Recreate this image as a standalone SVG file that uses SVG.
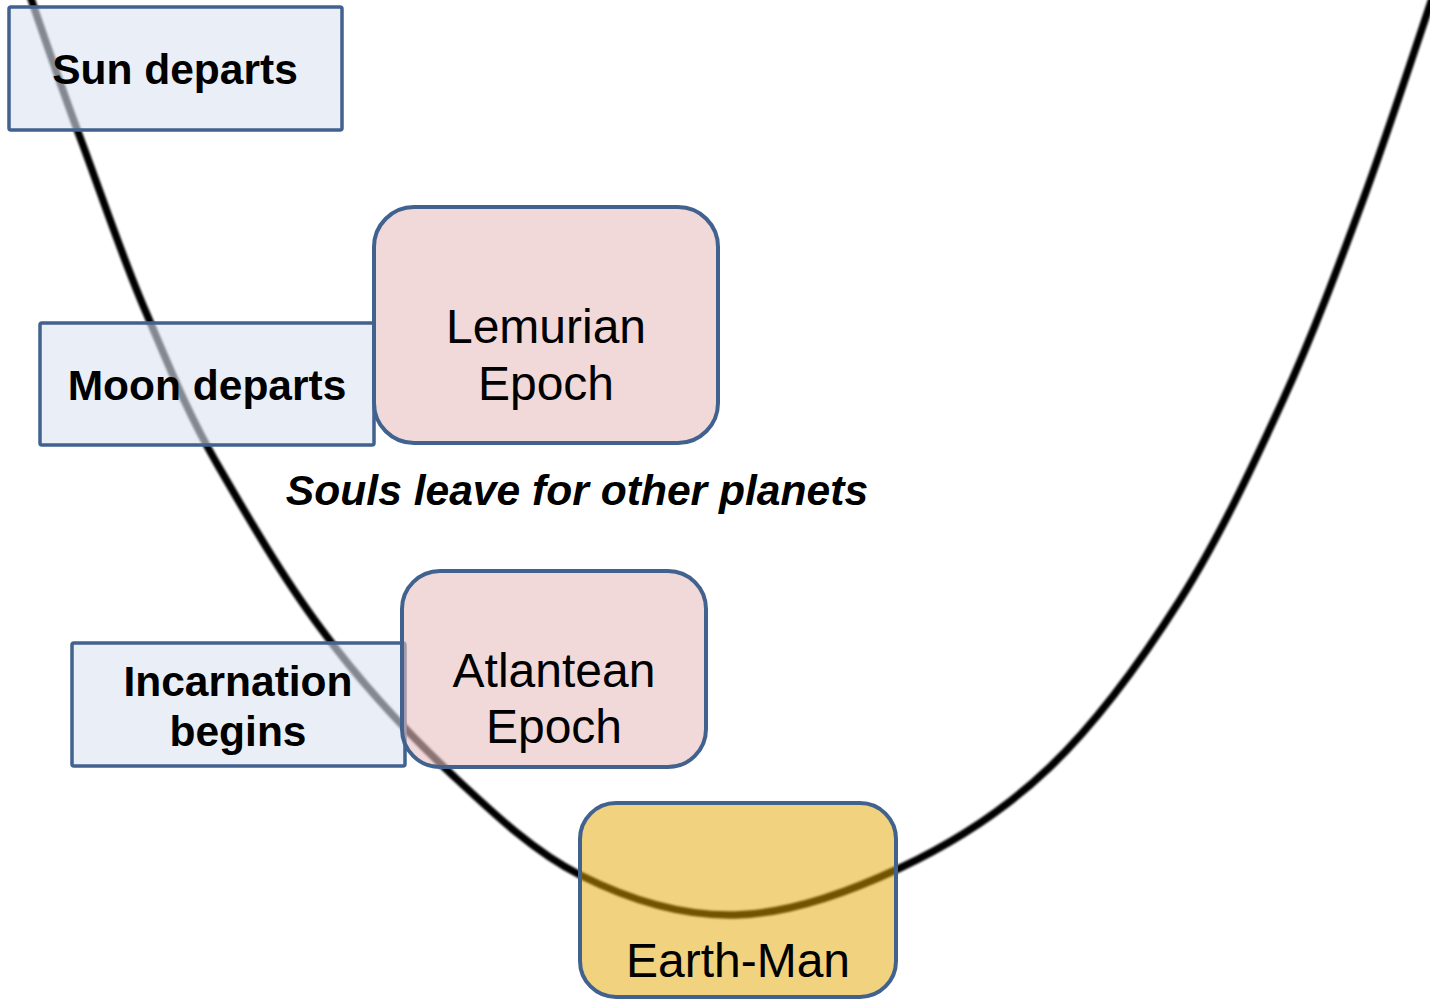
<svg xmlns="http://www.w3.org/2000/svg" width="1430" height="999" viewBox="0 0 1430 999">
<defs>
<filter id="soft" x="-5%" y="-5%" width="110%" height="110%"><feGaussianBlur stdDeviation="1.3"/></filter>
</defs>
<style>
.lab{fill:rgb(218,227,242);fill-opacity:0.6;stroke:#41628f;stroke-width:3.5}
.ep{fill:rgb(230,192,190);fill-opacity:0.6;stroke:#41628f;stroke-width:4}
.em{fill:rgb(225,165,0);fill-opacity:0.5;stroke:#41628f;stroke-width:4}
.b{font-family:"Liberation Sans",Arial,sans-serif;font-weight:bold;font-size:42.5px;fill:#000;text-anchor:middle}
.n{font-family:"Liberation Sans",Arial,sans-serif;font-size:48px;fill:#000;text-anchor:middle}
.i{font-family:"Liberation Sans",Arial,sans-serif;font-weight:bold;font-style:italic;font-size:42.6px;fill:#000;text-anchor:middle}
</style>
<rect width="1430" height="999" fill="#fff"/>
<g id="connectors">
<path filter="url(#soft)" fill="none" stroke="#000" stroke-width="7.5" stroke-linecap="round" d="M28,-10 C36.7,15 61,86.7 81,140 C101,193.3 122,256.7 145,310 C168,363.3 186,410 216,462 C246,514 283,578.3 322,630 C360,681.7 404,729.2 447,770 C490.8,810.8 532,850.8 580,875 C628,899.2 681.7,916.2 735,915 C788.3,913.8 847.5,892.7 900,868 C952.5,843.3 1003.3,811.7 1050,767 C1096.7,722.3 1141.2,661.2 1180,600 C1218.8,538.8 1252.5,466.7 1283,400 C1313.5,333.3 1337.7,268.3 1363,200 C1388.3,131.7 1423,25 1435,-10"/>
</g>
<g id="sun-departs">
<rect class="lab" x="9" y="7" width="333" height="123" rx="2"/>
<text class="b" x="175" y="84">Sun departs</text>
</g>
<g id="moon-departs">
<rect class="lab" x="40" y="323" width="334" height="122" rx="2"/>
<text class="b" x="207" y="400">Moon departs</text>
</g>
<g id="incarnation-begins">
<rect class="lab" x="72" y="643" width="333" height="123" rx="2"/>
<text class="b" x="238" y="696">Incarnation</text>
<text class="b" x="238" y="746">begins</text>
</g>
<g id="lemurian-epoch">
<rect class="ep" x="374" y="207" width="344" height="236" rx="40"/>
<text class="n" x="546" y="343">Lemurian</text>
<text class="n" x="546" y="400">Epoch</text>
</g>
<g id="atlantean-epoch">
<rect class="ep" x="402" y="571" width="304" height="196" rx="38"/>
<text class="n" x="554" y="687">Atlantean</text>
<text class="n" x="554" y="743">Epoch</text>
</g>
<g id="souls-note">
<text class="i" x="577" y="505">Souls leave for other planets</text>
</g>
<g id="earth-man">
<rect class="em" x="580" y="803" width="316" height="194" rx="36"/>
<text class="n" x="738" y="977">Earth-Man</text>
</g>
</svg>
